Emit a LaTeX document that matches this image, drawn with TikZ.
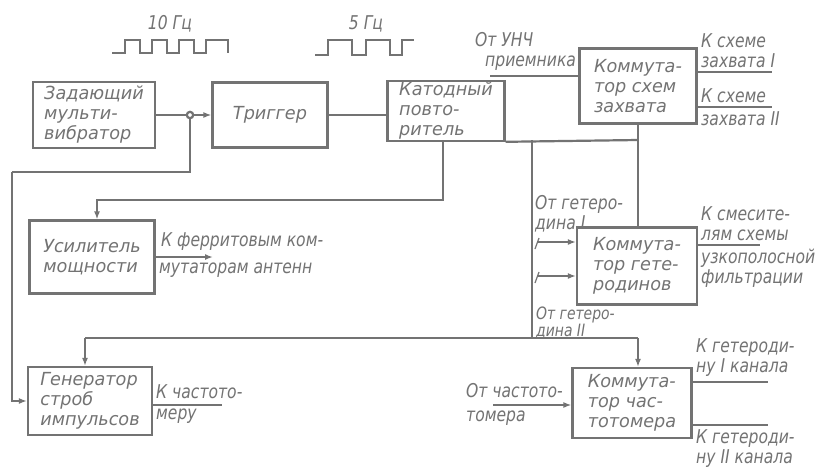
\documentclass[tikz,border=0pt]{standalone}
\usepackage{fontspec}
\newfontfamily\hwfont[FakeStretch=0.82]{DejaVu Sans}
\newfontfamily\bxfont[FakeStretch=0.98]{DejaVu Sans}
\usetikzlibrary{arrows.meta,positioning,calc}
\definecolor{ink}{gray}{0.45}

\begin{document}
\begin{tikzpicture}[x=1pt,y=-1pt,>=Latex,
 blk/.style={draw=ink,line width=2.2pt,inner sep=1pt,align=left,text=ink,
  font=\bxfont\itshape\fontsize{18}{20}\selectfont},
 lbl/.style={inner sep=1pt,align=left,text=ink,
  font=\hwfont\itshape\fontsize{19}{20}\selectfont},
 wire/.style={draw=ink,line width=2.2pt},
 arr/.style={wire,-{Latex[length=8pt,width=6pt]}},
 tick/.style={draw=ink,line width=1.2pt}]
\useasboundingbox[fill=white] (0,0) rectangle (827,467);
% blocks
\node[blk,minimum width=122pt,minimum height=66pt] (zad) at (94,115) {Задающий\\мульти-\\вибратор};
\node[blk,minimum width=115pt,minimum height=65pt] (trig) at (270,115) {Триггер};
\node[blk,minimum width=117pt,minimum height=58pt] (kat) at (446,111) {Катодный\\повто-\\ритель};
\node[blk,minimum width=117pt,minimum height=75pt] (ksz) at (638,86) {Коммута-\\тор схем\\захвата};
\node[blk,minimum width=125pt,minimum height=73pt] (us) at (92,257) {Усилитель\\мощности};
\node[blk,minimum width=120pt,minimum height=77pt] (kg) at (637,266) {Коммута-\\тор гете-\\родинов};
\node[blk,minimum width=124pt,minimum height=68pt] (gen) at (90,401) {Генератор\\строб\\импульсов};
\node[blk,minimum width=119pt,minimum height=70pt] (kch) at (632,403) {Коммута-\\тор час-\\тотомера};
% pulse trains
\node[lbl] (f10) at (170,24) {10 Гц};
\node[lbl] (f5) at (366,24) {5 Гц};
\draw[wire] (112,53) -- (125,53) -- (125,40) -- (140,40) -- (140,53) -- (152,53) -- (152,40)
 -- (167,40) -- (167,53) -- (179,53) -- (179,40) -- (194,40) -- (194,53) -- (206,53)
 -- (206,40) -- (228,40) -- (228,53);
\draw[wire] (315,55) -- (328,55) -- (328,40) -- (352,40) -- (352,55) -- (366,55) -- (366,40)
 -- (390,40) -- (390,55) -- (402,55) -- (402,40) -- (414,40);
% connections
\coordinate (j) at (190,115);
\coordinate (c1) at (12,172);
\draw[arr] (zad.east) -- (zad.east -| trig.west);
\draw[wire] (j) |- (c1);
\draw[arr] (c1) |- (gen.west);
\draw[wire,fill=white] (j) circle (3.2pt);
\draw[wire] (trig.east) -- (trig.east -| kat.west);
\coordinate (kd) at (443,140);
\coordinate (ku) at (97,200);
\draw[arr] (kd) |- (ku) -- (ku |- us.north);
\coordinate (bus) at (638,140);
\coordinate (bv) at (532,140);
\coordinate (b3) at (85,338);
\coordinate (b4) at (638,338);
\draw[wire] (kat.south east) -- (bus);
\draw[wire] (ksz.south -| bus) -- (kg.north -| bus);
\draw[wire] (bv) -- (bv |- b3);
\draw[wire] (b3) -- (b4);
\draw[arr] (b3) -- (b3 |- gen.north);
\draw[arr] (b4) -- (b4 |- kch.north);
% inputs and outputs
\node[lbl,anchor=south west] (unch) at (474,72) {От УНЧ\\\hspace*{10pt}приемника};
\coordinate (pr) at (490,76);
\draw[wire] (pr) -- (pr -| ksz.west);
\coordinate (o1) at (772,72);
\coordinate (o2) at (772,107);
\draw[wire] (o1 -| ksz.east) -- (o1);
\draw[wire] (o2 -| ksz.east) -- (o2);
\node[lbl,anchor=south west] (zx1) at (700,69) {К схеме\\захвата I};
\node[lbl,anchor=south west] (zx2) at (700,104) {К схеме};
\node[lbl,anchor=north west] (zx2b) at (700,110) {захвата II};
\node[lbl,anchor=south west] (het1) at (534,233) {От гетеро-\\дина I};
\node[lbl,anchor=north west,font=\hwfont\itshape\fontsize{17}{15}\selectfont] (het2) at (535,306) {От гетеро-\\дина II};
\coordinate (h1) at (538,242);
\coordinate (h2) at (538,276);
\draw[arr] (h1) -- (h1 -| kg.west);
\draw[arr] (h2) -- (h2 -| kg.west);
\draw[tick] (535,249) -- (539,238);
\draw[tick] (535,283) -- (539,272);
\coordinate (o3) at (760,245);
\draw[wire] (o3 -| kg.east) -- (o3);
\node[lbl,anchor=south west] (sm) at (700,242) {К смесите-\\лям схемы};
\node[lbl,anchor=north west] (uz) at (700,248) {узкополосной\\фильтрации};
\coordinate (fa) at (213,257);
\draw[arr] (us.east) -- (fa);
\node[lbl,anchor=south west] (fer1) at (160,252) {К ферритовым ком-};
\node[lbl,anchor=north west] (fer2) at (158,262) {мутаторам антенн};
\coordinate (go) at (222,405);
\draw[wire] (gen.east |- go) -- (go);
\node[lbl,anchor=south west] (ch1) at (155,400) {К частото-};
\node[lbl,anchor=north west] (ch2) at (155,408) {меру};
\coordinate (ki) at (493,405);
\draw[arr] (ki) -- (ki -| kch.west);
\node[lbl,anchor=south west] (ot1) at (465,399) {От частото-};
\node[lbl,anchor=north west] (ot2) at (465,410) {томера};
\coordinate (o4) at (768,382);
\coordinate (o5) at (768,425);
\draw[wire] (o4 -| kch.east) -- (o4);
\draw[wire] (o5 -| kch.east) -- (o5);
\node[lbl,anchor=south west] (kk1) at (695,378) {К гетероди-\\ну I канала};
\node[lbl,anchor=north west] (kk2) at (695,428) {К гетероди-\\ну II канала};
\end{tikzpicture}
\end{document}
